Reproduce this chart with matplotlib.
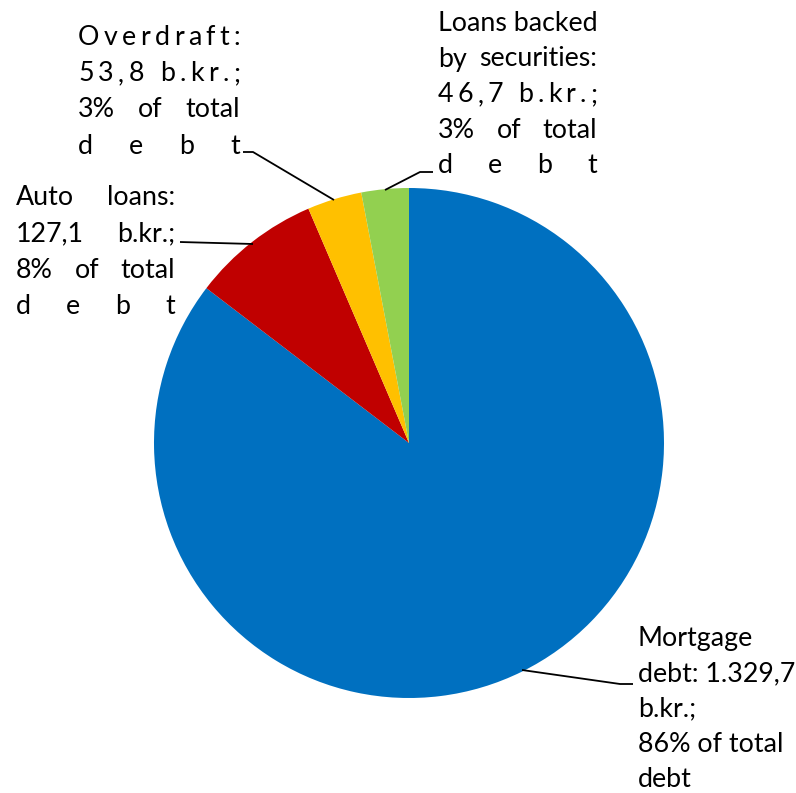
import matplotlib
matplotlib.use('Agg')
import matplotlib.pyplot as plt
from matplotlib.font_manager import FontProperties

## data

categories = ['Mortgage debt', 'Auto loans', 'Overdraft', 'Loans backed by securities']
values = [1329.7, 127.1, 53.8, 46.7]
colors = ['#0070C0', '#C00000', '#FFC000', '#92D050']

W, H = 796, 793
FONT = 'Lato'
FSIZE = 19.3

fig = plt.figure(figsize=(W / 100, H / 100), dpi=100)
ax = fig.add_axes([0, 0, 1, 1])

## pie (center and radius in pixels, y measured from the bottom)

ax.pie(values, colors=colors, startangle=90, counterclock=False,
       center=(409, H - 443), radius=255, frame=True,
       wedgeprops=dict(linewidth=0))
ax.set_xlim(0, W)
ax.set_ylim(0, H)
ax.set_aspect('equal')
ax.axis('off')

renderer = fig.canvas.get_renderer()
prop = FontProperties(family=FONT, size=FSIZE)


def text_width(s):
    w, h, d = renderer.get_text_width_height_descent(s, prop, ismath=False)
    return w


SPACE = text_width('a a') - text_width('aa')


def justify(line, x0, x1, ytop, mode):
    # draw one line spread over x0..x1 (pixel coords, ytop from the top)
    y = H - ytop
    if mode == 'word':
        parts = line.split()
    elif mode == 'char':
        parts = list(line)
    else:
        parts = [line]
    widths = [text_width(p) if p != ' ' else SPACE for p in parts]
    if len(parts) > 1:
        gap = (x1 - x0 - sum(widths)) / (len(parts) - 1)
        if mode == 'word' and gap < SPACE:
            parts, widths, gap = [line], [0], 0
    else:
        gap = 0
    x = x0
    for p, w in zip(parts, widths):
        if p != ' ':
            ax.text(x, y, p, fontproperties=prop, va='baseline', ha='left')
        x += w + gap


def label(lines, modes, x0, x1, base0, step=36.2):
    for i, (ln, md) in enumerate(zip(lines, modes)):
        justify(ln, x0, x1, base0 + i * step, md)


def leader(pts):
    xs = [p[0] for p in pts]
    ys = [H - p[1] for p in pts]
    ax.plot(xs, ys, color='black', lw=1.3, solid_capstyle='butt')


# Overdraft
label(['Overdraft:', '53,8 b.kr.;', '3% of total', 'debt'],
      ['char', 'char', 'word', 'char'], 78, 240, 45)
leader([(243, 152), (253, 152), (334, 200)])

# Loans backed by securities
label(['Loans backed', 'by securities:', '46,7 b.kr.;', '3% of total', 'debt'],
      ['word', 'word', 'char', 'word', 'char'], 438, 597, 31, 35.5)
leader([(433, 172), (420, 172), (385, 190)])

# Auto loans
label(['Auto loans:', '127,1 b.kr.;', '8% of total', 'debt'],
      ['word', 'word', 'word', 'char'], 16, 175, 205, 36.5)
leader([(180, 242), (253, 244)])

# Mortgage debt
label(['Mortgage', 'debt: 1.329,7', 'b.kr.;', '86% of total', 'debt'],
      ['left'] * 5, 638, 796, 646, 35.3)
leader([(522, 670), (620, 684), (633, 684)])

fig.savefig('out.png', dpi=100)
